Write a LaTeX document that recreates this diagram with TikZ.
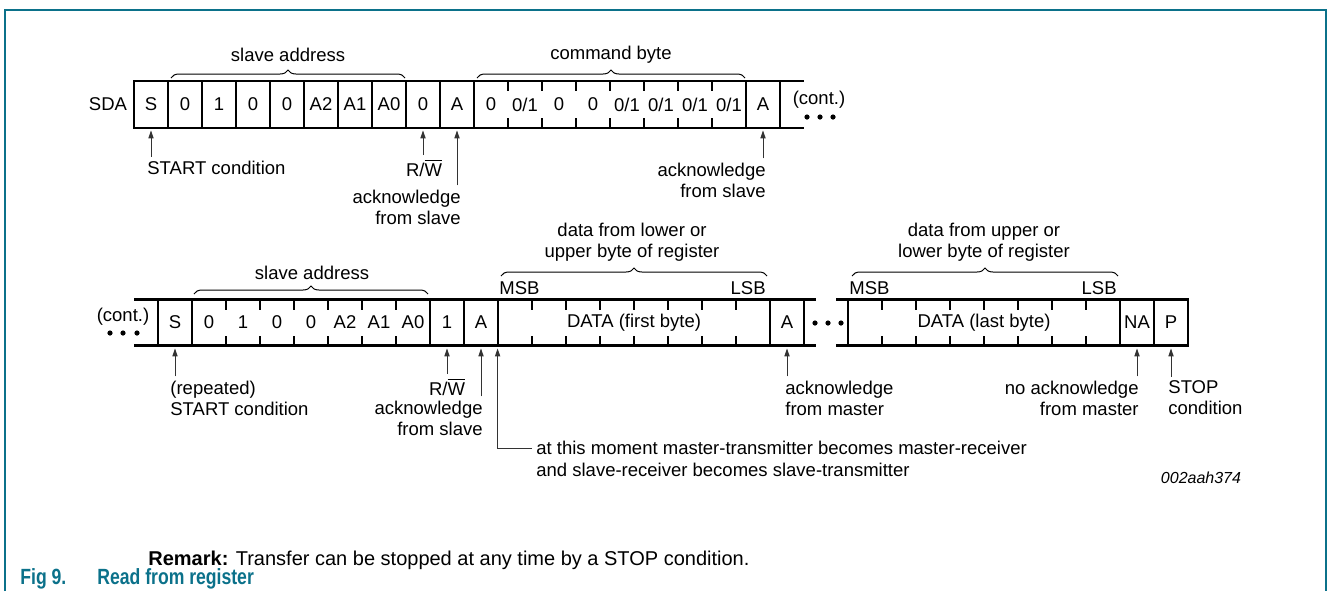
\documentclass[tikz,border=0pt]{standalone}
\usepackage{fontspec}
\setmainfont{Liberation Sans}
\newfontfamily\capfont[FakeStretch=0.8]{Liberation Sans}
\usepackage{tikz}
\usetikzlibrary{positioning}
\usetikzlibrary{arrows.meta, decorations.pathreplacing, calc}
\definecolor{figteal}{RGB}{11,113,138}
\newcommand{\lblfont}{\fontsize{9.25}{10.5}\selectfont}

\tikzset{
    bit/.style={minimum width=17pt, minimum height=23.5pt, inner sep=0pt, font=\lblfont},
    lbl/.style={font=\lblfont, inner sep=2pt},
    wire/.style={line width=1.4pt, line cap=rect},
    tickmark/.style={line width=1.4pt},
    pointer/.style={draw=black!80, line width=0.5pt, shorten >=1pt, -{Triangle[length=4pt,width=2.6pt]}},
    brc/.style={decorate, decoration={brace, amplitude=4pt}, line width=0.5pt},
    busdot/.style={circle, fill, inner sep=0pt, minimum size=2.6pt},
    caption/.style={anchor=west, inner sep=2pt, font=\fontsize{11}{13}\capfont\bfseries, text=figteal}
}

\begin{document}
\begin{tikzpicture}[x=0.5pt, y=-0.5pt]
    \useasboundingbox (0,0) rectangle (1328,591);
    \draw[figteal, line width=1pt] (5,591) -- (5,9.5) -- (1325.5,9.5) -- (1325.5,591);

    % first transfer: address and command byte
    \draw[wire] (134,81) -- (803,81);
    \draw[wire] (134,128) -- (803,128);
    \foreach \i in {0,...,10,18,19}
        \draw[wire] ({134+34*\i},81) -- ({134+34*\i},128);
    \foreach \i in {11,...,17} {
        \draw[tickmark] ({134+34*\i},81) -- ++(0,10);
        \draw[tickmark] ({134+34*\i},128) -- ++(0,-10);
    }
    \foreach \t [count=\i from 0] in {S,0,1,0,0,A2,A1,A0,0,A,0,0/1,0,0,0/1,0/1,0/1,0/1,A}
        \node[bit] (t\i) at ({151+34*\i},104.5) {\t};
    \node[lbl] (sda) at (108,104.5) {SDA};

    \node[lbl] (tsa) at (288,55) {slave address};
    \draw[brc] (171,78) -- (405,78);
    \node[lbl] (tcb) at (611,55) {command byte};
    \draw[brc] (477,78) -- (745,78);

    \node[lbl] (tcont) at (819,100) {(cont.)};
    \foreach \x [count=\k] in {807,820,833}
        \node[busdot] (tdot\k) at (\x,117) {};

    \node[lbl, anchor=west] (lstart) at (143,168) {START condition};
    \draw[pointer] (t0.south |- lstart.north) -- (t0.south);
    \node[lbl] (lrw) at (424,168) {R/$\overline{\mbox{W}}$};
    \draw[pointer] (t8.south |- lrw.north) -- (t8.south);
    \node[lbl, anchor=east, align=right] (lack1) at (465,207) {acknowledge\\from slave};
    \draw[pointer] (t9.south |- lack1.north) -- (t9.south);
    \node[lbl, anchor=east, align=right] (lack2) at (770,180) {acknowledge\\from slave};
    \draw[pointer] (t18.south |- lack2.north) -- (t18.south);

    % second transfer: repeated start and data bytes
    \draw[wire] (135,299.5) -- (815,299.5);
    \draw[wire] (135,345.5) -- (815,345.5);
    \draw[wire] (837,299.5) -- (1188,299.5);
    \draw[wire] (837,345.5) -- (1188,345.5);
    \foreach \x in {158,192,430,464,498,770,804,848,1120,1154,1188}
        \draw[wire] (\x,299.5) -- (\x,345.5);
    \foreach \x in {226,260,294,328,362,396,532,566,600,634,668,702,736,882,916,950,984,1018,1052,1086} {
        \draw[tickmark] (\x,299.5) -- ++(0,10);
        \draw[tickmark] (\x,345.5) -- ++(0,-10);
    }
    \foreach \t [count=\i from 0] in {S,0,1,0,0,A2,A1,A0,1,A}
        \node[bit] (b\i) at ({175+34*\i},322.5) {\t};
    \node[bit, minimum width=136pt] (bdata1) at (634,322.5) {DATA (first byte)};
    \node[bit] (b10) at (787,322.5) {A};
    \node[bit, minimum width=136pt] (bdata2) at (984,322.5) {DATA (last byte)};
    \node[bit] (bna) at (1137,322.5) {NA};
    \node[bit] (bp) at (1171,322.5) {P};

    \node[lbl] (bcont) at (123,317) {(cont.)};
    \foreach \x [count=\k] in {110,123,137}
        \node[busdot] (ldot\k) at (\x,333) {};
    \foreach \x [count=\k] in {815,828,841}
        \node[busdot] (mdot\k) at (\x,323) {};

    \node[lbl] (bsa) at (312,273) {slave address};
    \draw[brc] (194,294) -- (428,294);
    \node[lbl, align=center] (bdt1) at (632,242) {data from lower or\\upper byte of register};
    \draw[brc] (501,276) -- (767,276);
    \node[lbl, anchor=west] (bmsb1) at (495,288) {MSB};
    \node[lbl, anchor=east] (blsb1) at (770,288) {LSB};
    \node[lbl, align=center] (bdt2) at (984,242) {data from upper or\\lower byte of register};
    \draw[brc] (852,276) -- (1118,276);
    \node[lbl, anchor=west] (bmsb2) at (845,288) {MSB};
    \node[lbl, anchor=east] (blsb2) at (1121,288) {LSB};

    \node[lbl, anchor=west, align=left] (lrstart) at (166,398) {(repeated)\\START condition};
    \draw[pointer] (b0.south |- lrstart.north) -- (b0.south);
    \node[lbl] (lrw2) at (447,387) {R/$\overline{\mbox{W}}$};
    \draw[pointer] (b8.south |- lrw2.north) -- (b8.south);
    \node[lbl, anchor=east, align=right] (lack3) at (487,418) {acknowledge\\from slave};
    \draw[pointer] (b9.south |- lack3.north) -- (b9.south);
    \node[lbl, anchor=west] (lmoment) at (532,448) {at this moment master-transmitter becomes master-receiver};
    \node[lbl, anchor=west] (lmoment2) at (532,470) {and slave-receiver becomes slave-transmitter};
    \draw[pointer] (lmoment.west) -| (bdata1.south west);
    \node[lbl, anchor=west, align=left] (lackm) at (781,398) {acknowledge\\from master};
    \draw[pointer] (b10.south |- lackm.north) -- (b10.south);
    \node[lbl, anchor=east, align=right] (lnack) at (1143,398) {no acknowledge\\from master};
    \draw[pointer] (bna.south |- lnack.north) -- (bna.south);
    \node[lbl, anchor=west, align=left] (lstop) at (1164,398) {STOP\\condition};
    \draw[pointer] (bp.south |- lstop.north) -- (bp.south);

    \node[font=\fontsize{8}{9}\selectfont\itshape] (lid) at (1201,478) {002aah374};

    % remark and caption
    \node[anchor=west, inner sep=2pt, font=\fontsize{10}{12}\selectfont] (rmk) at (144,560) {\textbf{Remark:} Transfer can be stopped at any time by a STOP condition.};
    \node[caption] (fignum) at (16,579) {Fig 9.};
    \node[caption] (figtitle) at (93,579) {Read from register};
\end{tikzpicture}
\end{document}
